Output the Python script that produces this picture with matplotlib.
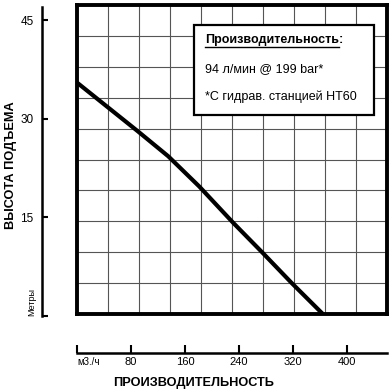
import matplotlib
matplotlib.use("Agg")
import matplotlib.pyplot as plt
import numpy as np
from matplotlib.lines import Line2D
from matplotlib.patches import Rectangle

plt.rcParams['font.family'] = ['Liberation Sans', 'DejaVu Sans']

# curve
flow = [0, 90, 135, 181, 231, 274, 318, 364]
head = [35.5, 28.1, 24.3, 19.7, 14.2, 9.7, 5.0, 0.3]

y_ticks = [0, 15, 30, 45]
y_ticklabels = ['', '15', '30', '45']
x_ticks = [0, 80, 160, 240, 320, 400]
x_ticklabels = ['м3./ч', '80', '160', '240', '320', '400']

box_title = 'Производительность'
box_lines = ['94 л/мин @ 199 bar*', '*С гидрав. станцией НТ60']

W, H = 391, 392
fig = plt.figure(figsize=(W / 100, H / 100), dpi=100)


def px_axes(x0, y0, x1, y1):
    return fig.add_axes([x0 / W, 1 - y1 / H, (x1 - x0) / W, (y1 - y0) / H])


# main grid box
ax = px_axes(77, 5, 387, 314)
ax.set_xlim(0, 459)
ax.set_ylim(0.3, 47.3)
for x in np.linspace(0, 459, 11)[1:-1]:
    ax.axvline(x, color='#555555', lw=0.8, zorder=1)
for y in np.linspace(0.3, 47.3, 11)[1:-1]:
    ax.axhline(y, color='#555555', lw=0.8, zorder=1)
ax.plot(flow, head, color='black', lw=3, solid_capstyle='butt', zorder=2)
ax.set_xticks([])
ax.set_yticks([])
for s in ax.spines.values():
    s.set_linewidth(2.8)

# info box
bx0, by0, bx1, by1 = 194, 25, 374, 115
fig.patches.append(Rectangle((bx0 / W, 1 - by1 / H), (bx1 - bx0) / W, (by1 - by0) / H,
                             transform=fig.transFigure, facecolor='white',
                             edgecolor='black', lw=1.6, zorder=5))
t = fig.text(205 / W, 1 - 40 / H, box_title, fontsize=9, fontweight='bold',
             va='center', ha='left', zorder=6)
fig.canvas.draw()
bb = t.get_window_extent()
fig.text(bb.x1 / W, 1 - 40 / H, ':', fontsize=9, fontweight='bold',
         va='center', ha='left', zorder=6)
fig.lines.append(Line2D([bb.x0 / W, bb.x1 / W], [(bb.y0 - 1) / H, (bb.y0 - 1) / H],
                        transform=fig.transFigure, color='black', lw=1, zorder=6))
fig.text(205 / W, 1 - 69 / H, box_lines[0], fontsize=9, va='center', ha='left', zorder=6)
fig.text(205 / W, 1 - 97 / H, box_lines[1], fontsize=9, va='center', ha='left', zorder=6)

# left ruler
ay = px_axes(42, 7, 60, 316)
ay.set_ylim(0, 47)
for k in ['top', 'right', 'bottom']:
    ay.spines[k].set_visible(False)
ay.spines['left'].set_linewidth(1.8)
ay.set_xticks([])
ay.set_yticks(y_ticks)
ay.set_yticklabels(y_ticklabels)
ay.tick_params(axis='y', direction='in', length=4.5, width=1.5, labelsize=8.5, pad=6)
ay.patch.set_visible(False)
fig.text(32 / W, 1 - 302 / H, 'Метры', rotation=90, fontsize=6.5, ha='center', va='center')
fig.text(11 / W, 1 - 165 / H, 'ВЫСОТА ПОДЪЕМА', rotation=90, fontsize=9.2,
         fontweight='bold', ha='center', va='center')

# bottom ruler
axx = px_axes(77, 330, 387, 353)
axx.set_xlim(0, 459)
for k in ['top', 'right', 'left']:
    axx.spines[k].set_visible(False)
axx.spines['bottom'].set_linewidth(1.8)
axx.set_yticks([])
axx.set_xticks(x_ticks)
axx.set_xticklabels(x_ticklabels)
axx.tick_params(axis='x', direction='in', length=6, width=1.5, labelsize=8, pad=3)
axx.get_xticklabels()[0].set_horizontalalignment('left')
axx.get_xticklabels()[0].set_fontsize(7)
axx.patch.set_visible(False)
fig.text(194 / W, 1 - 383 / H, 'ПРОИЗВОДИТЕЛЬНОСТЬ', fontsize=9.2, fontweight='bold',
         ha='center', va='center')

fig.savefig('out.png', dpi=100)
